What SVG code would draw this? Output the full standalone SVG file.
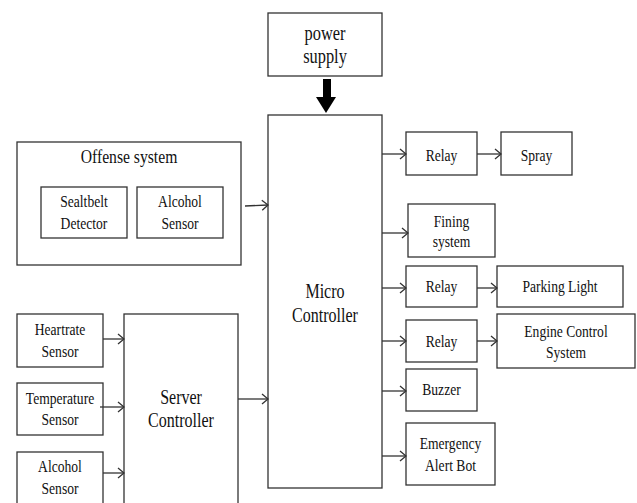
<svg xmlns="http://www.w3.org/2000/svg" width="637" height="503" viewBox="0 0 637 503">
<style>
.b{fill:#fff;stroke:#333;stroke-width:1.3}
.t{font-family:'Liberation Serif','Times New Roman','DejaVu Serif',serif;font-size:17px;fill:#111;text-anchor:middle}
.l{font-size:20px}
.c{stroke:#333;stroke-width:1.3;fill:none;marker-end:url(#ah)}
</style>
<defs>
<marker id="ah" markerUnits="userSpaceOnUse" markerWidth="10" markerHeight="12" viewBox="0 0 10 12" refX="9" refY="6" orient="auto">
<path d="M3,1 L9,6 L3,11" fill="none" stroke="#333" stroke-width="1.3"/>
</marker>
</defs>
<rect width="637" height="503" fill="#fff"/>
<g id="power">
<rect class="b" x="268" y="13" width="114" height="63"/>
<text class="t l" transform="translate(325 40) scale(0.82 1)">power</text>
<text class="t l" transform="translate(325 63) scale(0.82 1)">supply</text>
</g>
<g id="micro">
<rect class="b" x="268" y="115" width="114" height="373"/>
<text class="t l" transform="translate(325 298) scale(0.8 1)">Micro</text>
<text class="t l" transform="translate(325 322) scale(0.8 1)">Controller</text>
</g>
<g id="offense">
<rect class="b" x="17" y="142" width="224" height="123"/>
<text class="t" style="font-size:18px" transform="translate(129 163) scale(0.87 1)">Offense system</text>
</g>
<g id="sealtbelt">
<rect class="b" x="41" y="187" width="86" height="51"/>
<text class="t" transform="translate(84 207) scale(0.8 1)">Sealtbelt</text>
<text class="t" transform="translate(84 229) scale(0.8 1)">Detector</text>
</g>
<g id="alcohol1">
<rect class="b" x="137" y="187" width="86" height="51"/>
<text class="t" transform="translate(180 207) scale(0.8 1)">Alcohol</text>
<text class="t" transform="translate(180 229) scale(0.8 1)">Sensor</text>
</g>
<g id="server">
<rect class="b" x="124" y="314" width="114" height="200"/>
<text class="t l" transform="translate(181 404) scale(0.8 1)">Server</text>
<text class="t l" transform="translate(181 427) scale(0.8 1)">Controller</text>
</g>
<g id="heartrate">
<rect class="b" x="17" y="314" width="86" height="53"/>
<text class="t" transform="translate(60 335) scale(0.8 1)">Heartrate</text>
<text class="t" transform="translate(60 357) scale(0.8 1)">Sensor</text>
</g>
<g id="temperature">
<rect class="b" x="17" y="383" width="86" height="52"/>
<text class="t" transform="translate(60 404) scale(0.8 1)">Temperature</text>
<text class="t" transform="translate(60 425) scale(0.8 1)">Sensor</text>
</g>
<g id="alcohol2">
<rect class="b" x="17" y="452" width="86" height="60"/>
<text class="t" transform="translate(60 472) scale(0.8 1)">Alcohol</text>
<text class="t" transform="translate(60 494) scale(0.8 1)">Sensor</text>
</g>
<g id="relay1">
<rect class="b" x="406" y="132" width="71" height="43"/>
<text class="t" transform="translate(441.5 161) scale(0.8 1)">Relay</text>
</g>
<g id="spray">
<rect class="b" x="501" y="132" width="71" height="43"/>
<text class="t" transform="translate(536.5 161) scale(0.8 1)">Spray</text>
</g>
<g id="fining">
<rect class="b" x="408" y="204" width="87" height="53"/>
<text class="t" transform="translate(451.5 227) scale(0.8 1)">Fining</text>
<text class="t" transform="translate(451.5 247) scale(0.8 1)">system</text>
</g>
<g id="relay2">
<rect class="b" x="406" y="266" width="71" height="41"/>
<text class="t" transform="translate(441.5 292) scale(0.8 1)">Relay</text>
</g>
<g id="parking">
<rect class="b" x="497" y="266" width="126" height="41"/>
<text class="t" transform="translate(560 292) scale(0.8 1)">Parking Light</text>
</g>
<g id="relay3">
<rect class="b" x="406" y="320" width="71" height="42"/>
<text class="t" transform="translate(441.5 347) scale(0.8 1)">Relay</text>
</g>
<g id="engine">
<rect class="b" x="497" y="314" width="138" height="54"/>
<text class="t" transform="translate(566 337) scale(0.8 1)">Engine Control</text>
<text class="t" transform="translate(566 358) scale(0.8 1)">System</text>
</g>
<g id="buzzer">
<rect class="b" x="406" y="369" width="71" height="42"/>
<text class="t" transform="translate(441.5 395) scale(0.8 1)">Buzzer</text>
</g>
<g id="emergency">
<rect class="b" x="406" y="423" width="89" height="62"/>
<text class="t" transform="translate(450.5 449) scale(0.8 1)">Emergency</text>
<text class="t" transform="translate(450.5 471) scale(0.8 1)">Alert Bot</text>
</g>
<g id="connectors">
<polygon points="323,79 331,79 331,97 336,97 326,113 316,97 323,97" fill="#000"/>
<line class="c" x1="245" y1="206" x2="268" y2="205"/>
<line class="c" x1="103" y1="339" x2="124" y2="339"/>
<line class="c" x1="100" y1="407" x2="124" y2="407"/>
<line class="c" x1="103" y1="473" x2="124" y2="473"/>
<line class="c" x1="238" y1="399" x2="268" y2="399"/>
<line class="c" x1="382" y1="154" x2="406" y2="154"/>
<line class="c" x1="477" y1="154" x2="501" y2="154"/>
<line class="c" x1="382" y1="233" x2="408" y2="233"/>
<line class="c" x1="382" y1="288" x2="406" y2="288"/>
<line class="c" x1="477" y1="288" x2="497" y2="288"/>
<line class="c" x1="382" y1="341" x2="406" y2="341"/>
<line class="c" x1="477" y1="341" x2="497" y2="341"/>
<line class="c" x1="382" y1="391" x2="406" y2="391"/>
<line class="c" x1="382" y1="456" x2="406" y2="456"/>
</g>
</svg>
